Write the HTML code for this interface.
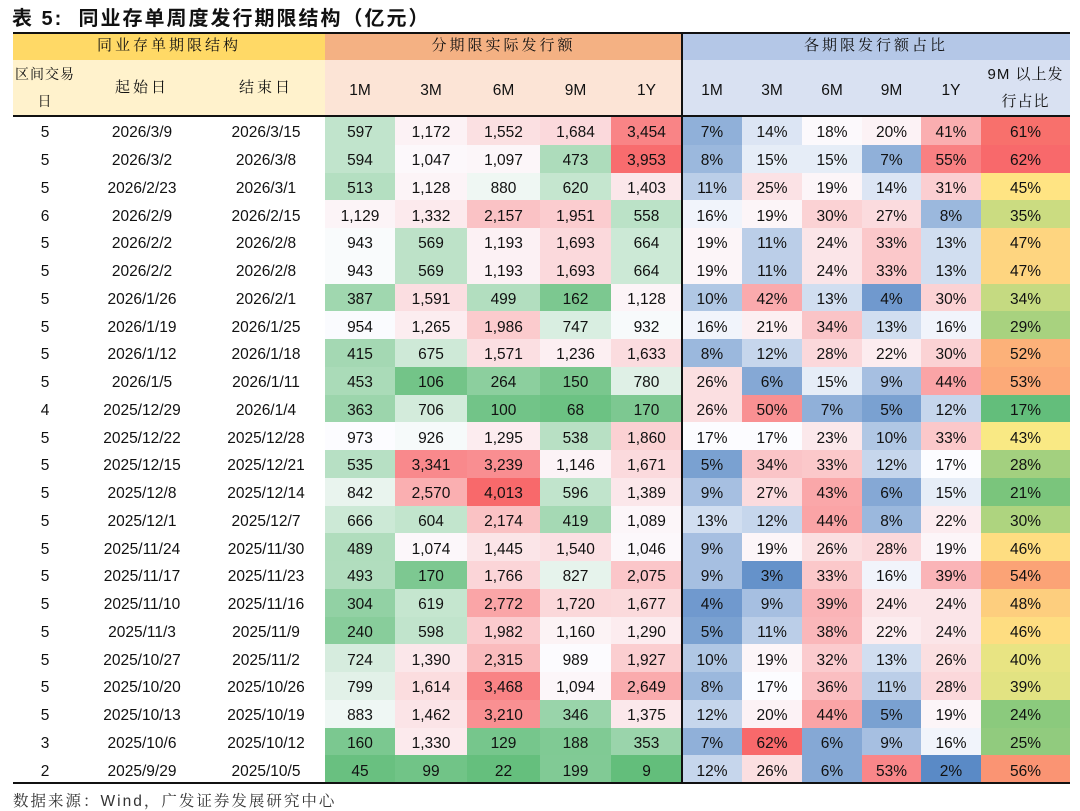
<!DOCTYPE html>
<html><head><meta charset="utf-8">
<style>
body{margin:0;width:1080px;height:810px;background:#fff;overflow:hidden;font-family:"Liberation Sans","Noto Sans CJK SC",sans-serif;color:#111;}
#title{position:absolute;left:12px;top:2px;font-size:20px;font-weight:bold;letter-spacing:2px;}
#tbl{position:absolute;left:13px;top:32px;width:1057px;}
.c{position:absolute;display:flex;align-items:center;justify-content:center;text-align:center;font-size:15.5px;box-sizing:border-box;padding-top:5px;}
.h{font-family:"Liberation Sans","Noto Serif CJK SC",serif;font-size:15px;letter-spacing:3px;line-height:26px;padding-top:0;}
.line{position:absolute;background:#111;}
#foot{position:absolute;left:13px;top:789px;font-size:15.5px;color:#333;font-family:"Liberation Sans","Noto Serif CJK SC",sans-serif;letter-spacing:2px;}
</style></head><body>
<div id="title">表 5:&nbsp; 同业存单周度发行期限结构（亿元）</div>
<div id="tbl"></div>
<div id="foot">数据来源：Wind，广发证券发展研究中心</div>
<script>
const days=[5,5,5,6,5,5,5,5,5,5,4,5,5,5,5,5,5,5,5,5,5,5,3,2];
const starts=["2026/3/9","2026/3/2","2026/2/23","2026/2/9","2026/2/2","2026/2/2","2026/1/26","2026/1/19","2026/1/12","2026/1/5","2025/12/29","2025/12/22","2025/12/15","2025/12/8","2025/12/1","2025/11/24","2025/11/17","2025/11/10","2025/11/3","2025/10/27","2025/10/20","2025/10/13","2025/10/6","2025/9/29"];
const ends=["2026/3/15","2026/3/8","2026/3/1","2026/2/15","2026/2/8","2026/2/8","2026/2/1","2026/1/25","2026/1/18","2026/1/11","2026/1/4","2025/12/28","2025/12/21","2025/12/14","2025/12/7","2025/11/30","2025/11/23","2025/11/16","2025/11/9","2025/11/2","2025/10/26","2025/10/19","2025/10/12","2025/10/5"];
const amt1M=[597,594,513,1129,943,943,387,954,415,453,363,973,535,842,666,489,493,304,240,724,799,883,160,45];
const amt3M=[1172,1047,1128,1332,569,569,1591,1265,675,106,706,926,3341,2570,604,1074,170,619,598,1390,1614,1462,1330,99];
const amt6M=[1552,1097,880,2157,1193,1193,499,1986,1571,264,100,1295,3239,4013,2174,1445,1766,2772,1982,2315,3468,3210,129,22];
const amt9M=[1684,473,620,1951,1693,1693,162,747,1236,150,68,538,1146,596,419,1540,827,1720,1160,989,1094,346,188,199];
const amt1Y=[3454,3953,1403,558,664,664,1128,932,1633,780,170,1860,1671,1389,1089,1046,2075,1677,1290,1927,2649,1375,353,9];
const pct1M=[7,8,11,16,19,19,10,16,8,26,26,17,5,9,13,9,9,4,5,10,8,12,7,12];
const pct3M=[14,15,25,19,11,11,42,21,12,6,50,17,34,27,12,19,3,9,11,19,17,20,62,26];
const pct6M=[18,15,19,30,24,24,13,34,28,15,7,23,33,43,44,26,33,39,38,32,36,44,6,6];
const pct9M=[20,7,14,27,33,33,4,13,22,9,5,10,12,6,8,28,16,24,22,13,11,5,9,53];
const pct1Y=[41,55,31,8,13,13,30,16,30,44,12,33,17,15,22,19,39,24,24,26,28,19,16,2];
const pct9Mplus=[61,62,45,35,47,47,34,29,52,53,17,43,28,21,30,46,54,48,46,40,39,24,25,56];

const tbl=document.getElementById('tbl');
const X=[0,64,194,312,382,454,527,598,669,729,789,849,908,968,1057];
const H1=28,H2=56,RH=27.75;
function cell(x0,x1,y,h,txt,bg,cls,name){
  const d=document.createElement('div');
  d.className='c '+(cls||'');
  d.style.left=x0+'px';d.style.width=(x1-x0)+'px';d.style.top=y+'px';d.style.height=h+'px';
  if(bg)d.style.background=bg;
  d.innerHTML=txt;
  
  
  tbl.appendChild(d);return d;
}
cell(X[0],X[3],0,H1,'同业存单期限结构','#FFD966','h','group-header-structure');
cell(X[3],X[8],0,H1,'分期限实际发行额','#F4B183','h','group-header-amount');
cell(X[8],X[14],0,H1,'各期限发行额占比','#B4C7E7','h','group-header-share');
const hdr=['区间交易<br>日','起始日','结束日','1M','3M','6M','9M','1Y','1M','3M','6M','9M','1Y','9M 以上发<br>行占比'];
hdr.forEach((t,i)=>{
  const bg=i<3?'#FFF2CC':(i<8?'#FCE4D6':'#D9E1F2');
  const c=cell(X[i],X[i+1],H1,H2,t,bg,(i<3||i==13)?'h':'', 'column-header');
  if(i==0){c.style.letterSpacing='1px';c.style.fontSize='14px';c.style.whiteSpace='nowrap';c.style.lineHeight='27px';}
  if(i==13){c.style.lineHeight='27px';c.style.letterSpacing='1px';c.style.whiteSpace='nowrap';}
});
function lerp(a,b,t){return a.map((v,i)=>Math.round(v+(b[i]-v)*t));}
function scale(v,mn,md,mx,c0,c1,c2){
  let col=v<=md?lerp(c0,c1,(v-mn)/(md-mn||1)):lerp(c1,c2,(v-md)/(mx-md||1));
  return 'rgb('+col.join(',')+')';
}
function median(a){const s=[...a].sort((x,y)=>x-y);const n=s.length;return (s[(n-1)>>1]+s[n>>1])/2;}
const amts=[amt1M,amt3M,amt6M,amt9M,amt1Y];
const pcts=[pct1M,pct3M,pct6M,pct9M,pct1Y];
const allA=amts.flat(),allP=pcts.flat();
const aMn=Math.min(...allA),aMx=Math.max(...allA),aMd=median(allA);
const pMn=Math.min(...allP),pMx=Math.max(...allP),pMd=median(allP);
const lMn=Math.min(...pct9Mplus),lMx=Math.max(...pct9Mplus),lMd=median(pct9Mplus);
const G=[99,190,123],W=[252,252,255],R=[248,105,107],B=[90,138,198],Y=[255,235,132];
const y0=H1+H2+1;
days.forEach((d,r)=>{
  const y=y0+r*RH;
  cell(X[0],X[1],y,RH,d,null,'','trading-days');
  cell(X[1],X[2],y,RH,starts[r],null,'','start-date');
  cell(X[2],X[3],y,RH,ends[r],null,'','end-date');
  amts.forEach((arr,j)=>{const v=arr[r];
    cell(X[3+j],X[4+j],y,RH,v.toLocaleString('en-US'),scale(v,aMn,aMd,aMx,G,W,R),'','amount-cell');});
  pcts.forEach((arr,j)=>{const v=arr[r];
    cell(X[8+j],X[9+j],y,RH,v+'%',scale(v,pMn,pMd,pMx,B,W,R),'','share-cell');});
  const v=pct9Mplus[r];
  cell(X[13],X[14],y,RH,v+'%',scale(v,lMn,lMd,lMx,G,Y,R),'','share-9m-plus-cell');
});
function line(x,y,w,h,name){const l=document.createElement('div');l.className='line';l.style.left=x+'px';l.style.top=y+'px';l.style.width=w+'px';l.style.height=h+'px';


tbl.appendChild(l);}
line(0,0,1057,2,'top-rule');
line(0,H1+H2-1,1057,2,'header-rule');
line(0,y0+24*RH-1,1057,2,'bottom-rule');
line(X[8]-1,0,2,y0+24*RH,'group-divider');
</script>
</body></html>
